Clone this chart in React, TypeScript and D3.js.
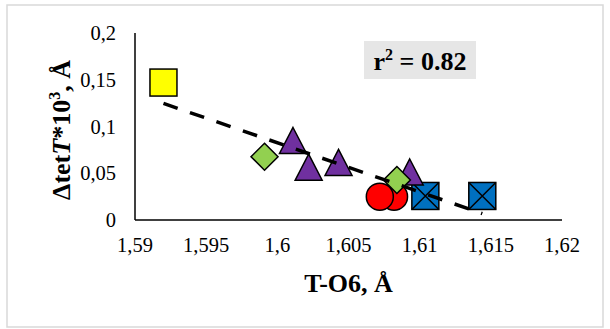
import React from "react";
import * as d3 from "d3";

const xTicks = [1.59, 1.595, 1.6, 1.605, 1.61, 1.615, 1.62];
const yTicks = [0, 0.05, 0.1, 0.15, 0.2];

type Pt = { x: number; y: number };
const yellowSquares: Pt[] = [{ x: 1.592, y: 0.147 }];
const blueXSquares: Pt[] = [
  { x: 1.6104, y: 0.0257 },
  { x: 1.6144, y: 0.0257 },
];
const redCircles: Pt[] = [
  { x: 1.6082, y: 0.025 },
  { x: 1.6072, y: 0.025 },
];
const purpleTriangles: Pt[] = [
  { x: 1.6011, y: 0.0845 },
  { x: 1.6022, y: 0.056 },
  { x: 1.6043, y: 0.061 },
  { x: 1.6093, y: 0.0508 },
];
const greenDiamonds: Pt[] = [
  { x: 1.5991, y: 0.0677 },
  { x: 1.6084, y: 0.0428 },
];

const W = 610;
const H = 329;
const M = { left: 135, right: 562, top: 33, bottom: 220 };

export default function App() {
  const x = d3.scaleLinear().domain([1.59, 1.62]).range([M.left, M.right]);
  const y = d3.scaleLinear().domain([0, 0.2]).range([M.bottom, M.top]);

  const all = [...yellowSquares, ...blueXSquares, ...redCircles, ...purpleTriangles, ...greenDiamonds];
  const mx = d3.mean(all, (d) => d.x)!;
  const my = d3.mean(all, (d) => d.y)!;
  const sxy = d3.sum(all, (d) => (d.x - mx) * (d.y - my));
  const sxx = d3.sum(all, (d) => (d.x - mx) ** 2);
  const slope = sxy / sxx;
  const icpt = my - slope * mx;
  const [x0, x1] = d3.extent(all, (d) => d.x) as [number, number];
  const trend = d3.line<number>().x((v) => x(v)).y((v) => y(slope * v + icpt))([x0, x1]);

  const s = 13.5;
  const stroke = "#000";
  const sw = 1.5;
  const font = "'Liberation Serif', 'Times New Roman', serif";

  return (
    <svg width={W} height={H} style={{ position: "absolute", left: 0, top: 0, background: "#fff" }} fontFamily={font}>
      <rect x={7} y={5} width={596} height={322} fill="#fff" stroke="#d9d9d9" strokeWidth={1.5} />
      {/* axes */}
      <line x1={M.left} x2={M.left} y1={M.top} y2={M.bottom} stroke="#000" strokeWidth={1.5} />
      <line x1={M.left} x2={M.right} y1={M.bottom} y2={M.bottom} stroke="#000" strokeWidth={1.5} />
      {yTicks.map((t) => (
        <text key={t} x={116} y={y(t)} dy="0.35em" textAnchor="end" fontSize={20.5}>
          {String(t).replace(".", ",")}
        </text>
      ))}
      {xTicks.map((t) => (
        <text key={t} x={x(t)} y={252} textAnchor="middle" fontSize={20.5}>
          {String(t).replace(".", ",")}
        </text>
      ))}
      <text x={x(1.605)} y={292} textAnchor="middle" fontSize={26} fontWeight="bold">
        T-O6, Å
      </text>
      <text transform="translate(70,130) rotate(-90)" textAnchor="middle" fontSize={26} fontWeight="bold">
        Δtet<tspan fontStyle="italic">T</tspan>*10<tspan fontSize={16} dy={-10}>3</tspan>
        <tspan dy={10}>, Å</tspan>
      </text>
      {/* markers */}
      {blueXSquares.map((d, i) => (
        <g key={"b" + i} transform={`translate(${x(d.x)},${y(d.y)})`}>
          <rect x={-s} y={-s} width={2 * s} height={2 * s} fill="#0070C0" stroke={stroke} strokeWidth={sw} />
          <path d={`M${-s},${-s}L${s},${s}M${s},${-s}L${-s},${s}`} stroke={stroke} strokeWidth={sw} />
        </g>
      ))}
      {redCircles.map((d, i) => (
        <circle key={"r" + i} cx={x(d.x)} cy={y(d.y)} r={s} fill="#FF0000" stroke={stroke} strokeWidth={sw} />
      ))}
      {purpleTriangles.map((d, i) => (
        <path
          key={"p" + i}
          transform={`translate(${x(d.x)},${y(d.y)})`}
          d={`M0,${-s}L${s},${s - 1}L${-s},${s - 1}Z`}
          fill="#7030A0"
          stroke={stroke}
          strokeWidth={sw}
        />
      ))}
      {greenDiamonds.map((d, i) => (
        <path
          key={"g" + i}
          transform={`translate(${x(d.x)},${y(d.y)})`}
          d={`M0,${-s}L${s},0L0,${s}L${-s},0Z`}
          fill="#92D050"
          stroke={stroke}
          strokeWidth={sw}
        />
      ))}
      {yellowSquares.map((d, i) => (
        <rect key={"y" + i} x={x(d.x) - s} y={y(d.y) - s} width={2 * s} height={2 * s} fill="#FFFF00" stroke={stroke} strokeWidth={sw} />
      ))}
      <path d={trend ?? ""} fill="none" stroke="#000" strokeWidth={3.5} strokeDasharray="15 13" />
      <rect x={364} y={41} width={112} height={38} fill="#e6e6e6" />
      <text x={420} y={70} textAnchor="middle" fontSize={26} fontWeight="bold">
        r<tspan fontSize={16} dy={-10}>2</tspan>
        <tspan dy={10}> = 0.82</tspan>
      </text>
    </svg>
  );
}
